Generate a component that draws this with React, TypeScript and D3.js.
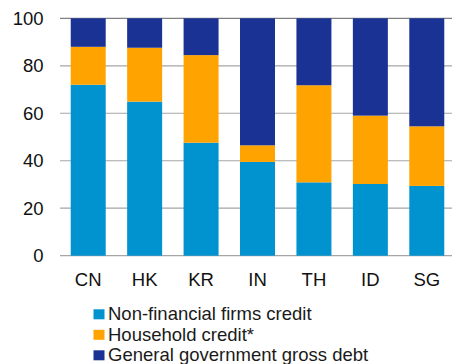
import React from "react";
import * as d3 from "d3";

const categories = ["CN", "HK", "KR", "IN", "TH", "ID", "SG"];
const nonFinancial = [72.0, 64.9, 47.6, 39.5, 30.9, 30.2, 29.4];
const household = [16.0, 22.7, 36.9, 7.0, 40.9, 28.8, 25.1];
const government = [12.0, 12.4, 15.5, 53.5, 28.2, 41.0, 45.5];
const seriesNames = ["Non-financial firms credit", "Household credit*", "General government gross debt"];
const yTicks = [0, 20, 40, 60, 80, 100];
const colors = ["#0093D0", "#FFA300", "#1A3293"];

export default function App() {
  const W = 452, H = 364;
  const x = d3.scaleBand().domain(categories).range([60, 455]).paddingInner(0.38).paddingOuter(0.19);
  const y = d3.scaleLinear().domain([0, 100]).range([255.7, 18.3]);
  const rows = categories.map((c, i) => ({ cat: c, nf: nonFinancial[i], hh: household[i], gg: government[i] }));
  const stack = d3.stack<any>().keys(["nf", "hh", "gg"])(rows);
  const font = "'Liberation Sans', Arial, sans-serif";
  return (
    <svg width={W} height={H} style={{ position: "absolute", left: 0, top: 0 }} fontFamily={font}>
      {yTicks.map((t) => (
        <g key={t}>
          <line x1={60} x2={452} y1={y(t)} y2={y(t)} stroke={t === 100 ? "#808080" : "#a6a6a6"} strokeWidth={1.2} />
          <text x={43.5} y={y(t)} dy="0.36em" textAnchor="end" fontSize={18.5} fill="#111">{t}</text>
        </g>
      ))}
      {stack.map((s, si) => (
        <g key={si} fill={colors[si]}>
          {s.map((d, i) => (
            <rect key={i} x={x(categories[i])} width={x.bandwidth()} y={y(d[1])} height={y(d[0]) - y(d[1])} />
          ))}
        </g>
      ))}
      {categories.map((c) => (
        <text key={c} x={(x(c) as number) + x.bandwidth() / 2} y={286} textAnchor="middle" fontSize={18.5} fill="#111">{c}</text>
      ))}
      {seriesNames.map((n, i) => (
        <g key={n}>
          <rect x={93.5} y={309.3 + i * 20.5} width={11} height={10} fill={colors[i]} />
          <text x={108} y={320.3 + i * 20.5} fontSize={18.5} fill="#1a1a1a">{n}</text>
        </g>
      ))}
    </svg>
  );
}
